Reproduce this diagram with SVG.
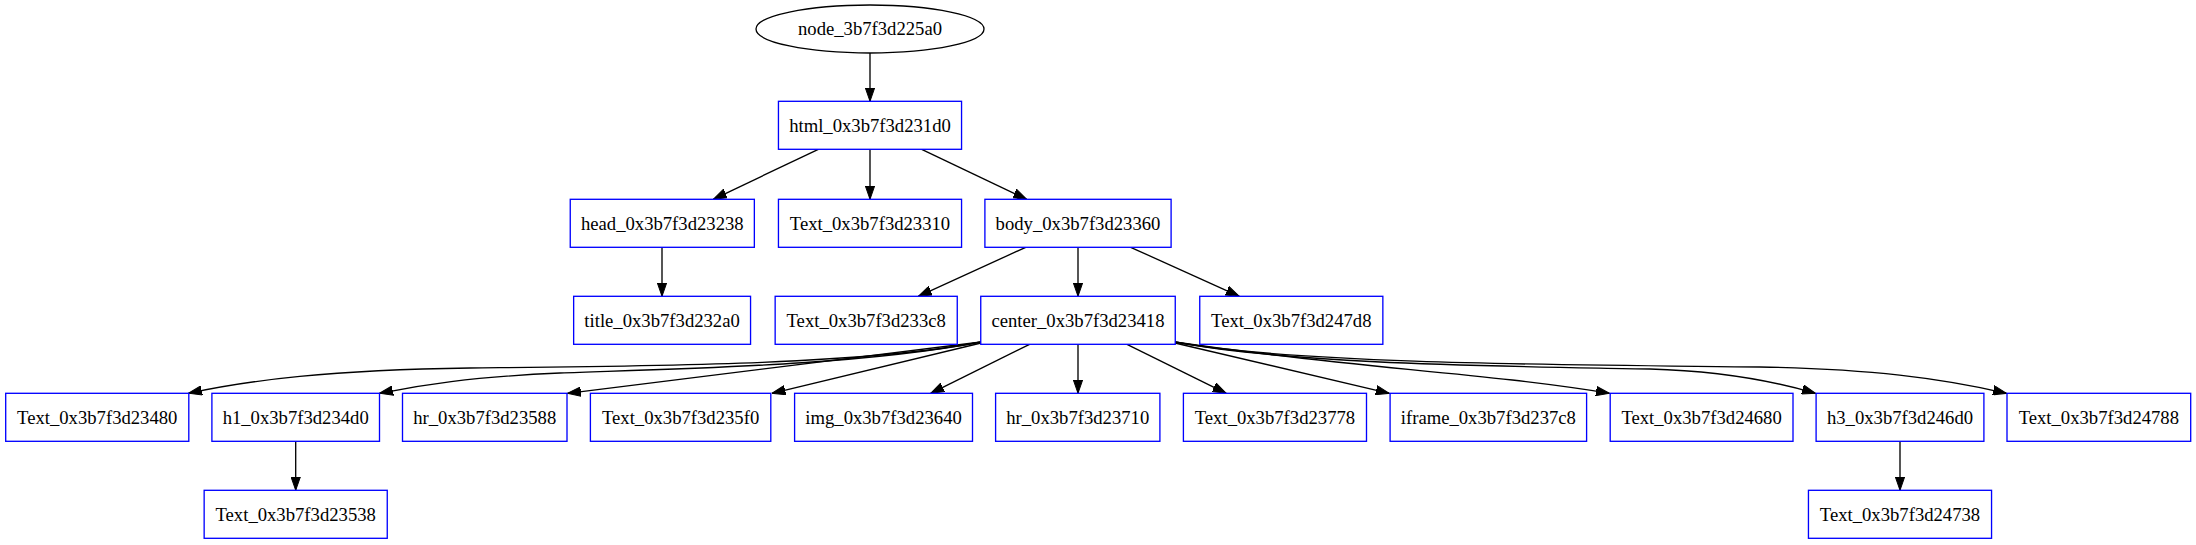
<svg xmlns="http://www.w3.org/2000/svg" width="2196" height="545" viewBox="0 0 2196 545">
<defs>
<style>
.n rect{fill:#fff;stroke:#0000ff;stroke-width:1.33}
.n ellipse{fill:#fff;stroke:#000;stroke-width:1.33}
.n text{font-family:"Liberation Serif","Times New Roman",serif;font-size:18.67px;fill:#000;text-anchor:middle}
#edges path{fill:none;stroke:#000;stroke-width:1.33;marker-end:url(#arr)}
</style>
<marker id="arr" markerUnits="userSpaceOnUse" markerWidth="14" markerHeight="10" viewBox="0 0 14 10" refX="13.5" refY="5" orient="auto">
<path d="M0,0.3 L13.5,5 L0,9.7 Z" fill="#000" stroke="#000" stroke-width="1"/>
</marker>
</defs>
<rect width="2196" height="545" fill="#fff"/>
<g id="edges">
<path d="M870,53 L870,101.3"/>
<path d="M818.3,149.3 L713.3,199.3"/>
<path d="M870,149.3 L870,199.3"/>
<path d="M921.7,149.3 L1026.7,199.3"/>
<path d="M662,247.3 L662,296.3"/>
<path d="M1025.7,247.3 L918.3,296.3"/>
<path d="M1078,247.3 L1078,296.3"/>
<path d="M1130.7,247.3 L1239.3,296.3"/>
<path d="M981,342 C860,365 650,366 470,368 C330,370 250,380 188.5,393.3"/>
<path d="M981,342 C860,365 700,368 560,373 C470,377 420,385 379.5,393.3"/>
<path d="M981,342 L567.5,393.3"/>
<path d="M981,343 L772,393.3"/>
<path d="M1029.6,344.3 L930.7,393.3"/>
<path d="M1078,344.3 L1078,393.3"/>
<path d="M1127,344.3 L1226.2,393.3"/>
<path d="M1175,343 L1389.3,393.3"/>
<path d="M1175,342 C1350,368 1480,372 1609.5,393.3"/>
<path d="M1175,342 C1300,365 1500,366 1650,369 C1720,371 1770,380 1815.5,393.3"/>
<path d="M1175,342 C1300,365 1600,365 1760,367 C1870,369 1940,378 2006.5,393.3"/>
<path d="M295.7,441.3 L295.7,490.3"/>
<path d="M1900,441.3 L1900,490.3"/>
</g>
<g id="node_3b7f3d225a0" class="n"><ellipse cx="870" cy="29" rx="114" ry="24"/><text x="870" y="35.3">node_3b7f3d225a0</text></g>
<g id="html_0x3b7f3d231d0" class="n"><rect x="778.45" y="101.3" width="183.1" height="48"/><text x="870" y="131.6">html_0x3b7f3d231d0</text></g>
<g id="head_0x3b7f3d23238" class="n"><rect x="570.25" y="199.3" width="184.1" height="48"/><text x="662.3" y="229.6">head_0x3b7f3d23238</text></g>
<g id="Text_0x3b7f3d23310" class="n"><rect x="778.45" y="199.3" width="183.1" height="48"/><text x="870" y="229.6">Text_0x3b7f3d23310</text></g>
<g id="body_0x3b7f3d23360" class="n"><rect x="984.9" y="199.3" width="186.2" height="48"/><text x="1078" y="229.6">body_0x3b7f3d23360</text></g>
<g id="title_0x3b7f3d232a0" class="n"><rect x="573.65" y="296.3" width="176.9" height="48"/><text x="662.1" y="326.6">title_0x3b7f3d232a0</text></g>
<g id="Text_0x3b7f3d233c8" class="n"><rect x="775.15" y="296.3" width="182.1" height="48"/><text x="866.2" y="326.6">Text_0x3b7f3d233c8</text></g>
<g id="center_0x3b7f3d23418" class="n"><rect x="980.75" y="296.3" width="194.5" height="48"/><text x="1078" y="326.6">center_0x3b7f3d23418</text></g>
<g id="Text_0x3b7f3d247d8" class="n"><rect x="1199.75" y="296.3" width="183.1" height="48"/><text x="1291.3" y="326.6">Text_0x3b7f3d247d8</text></g>
<g id="Text_0x3b7f3d23480" class="n"><rect x="5.7" y="393.3" width="183.1" height="48"/><text x="97.25" y="423.6">Text_0x3b7f3d23480</text></g>
<g id="h1_0x3b7f3d234d0" class="n"><rect x="211.9" y="393.3" width="167.6" height="48"/><text x="295.7" y="423.6">h1_0x3b7f3d234d0</text></g>
<g id="hr_0x3b7f3d23588" class="n"><rect x="402.5" y="393.3" width="164.5" height="48"/><text x="484.75" y="423.6">hr_0x3b7f3d23588</text></g>
<g id="Text_0x3b7f3d235f0" class="n"><rect x="590.4" y="393.3" width="180.4" height="48"/><text x="680.6" y="423.6">Text_0x3b7f3d235f0</text></g>
<g id="img_0x3b7f3d23640" class="n"><rect x="794.6" y="393.3" width="177.9" height="48"/><text x="883.55" y="423.6">img_0x3b7f3d23640</text></g>
<g id="hr_0x3b7f3d23710" class="n"><rect x="995.6" y="393.3" width="164.3" height="48"/><text x="1077.75" y="423.6">hr_0x3b7f3d23710</text></g>
<g id="Text_0x3b7f3d23778" class="n"><rect x="1183.4" y="393.3" width="183.1" height="48"/><text x="1274.95" y="423.6">Text_0x3b7f3d23778</text></g>
<g id="iframe_0x3b7f3d237c8" class="n"><rect x="1390.1" y="393.3" width="196.5" height="48"/><text x="1488.35" y="423.6">iframe_0x3b7f3d237c8</text></g>
<g id="Text_0x3b7f3d24680" class="n"><rect x="1610.2" y="393.3" width="182.8" height="48"/><text x="1701.6" y="423.6">Text_0x3b7f3d24680</text></g>
<g id="h3_0x3b7f3d246d0" class="n"><rect x="1816.1" y="393.3" width="167.8" height="48"/><text x="1900" y="423.6">h3_0x3b7f3d246d0</text></g>
<g id="Text_0x3b7f3d24788" class="n"><rect x="2007" y="393.3" width="183.7" height="48"/><text x="2098.85" y="423.6">Text_0x3b7f3d24788</text></g>
<g id="Text_0x3b7f3d23538" class="n"><rect x="204.15" y="490.3" width="183.1" height="48"/><text x="295.7" y="520.6">Text_0x3b7f3d23538</text></g>
<g id="Text_0x3b7f3d24738" class="n"><rect x="1808.45" y="490.3" width="183.1" height="48"/><text x="1900" y="520.6">Text_0x3b7f3d24738</text></g>
</svg>
